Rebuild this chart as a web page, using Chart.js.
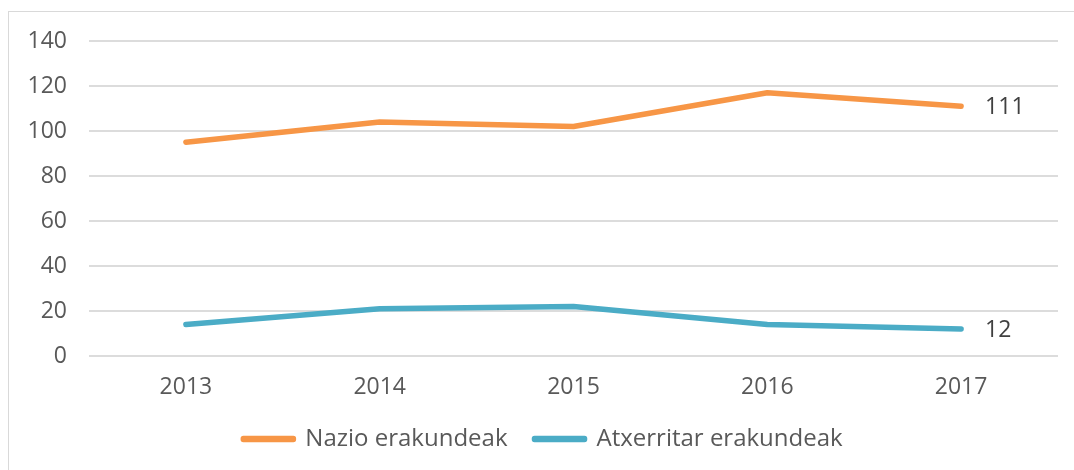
<!DOCTYPE html>
<html>
<head>
<meta charset="utf-8">
<script src="https://cdn.jsdelivr.net/npm/chart.js@4/dist/chart.umd.min.js"></script>
<style>
  html,body{margin:0;padding:0;background:#fff;}
  #wrap{position:relative;width:1074px;height:470px;overflow:hidden;}
  #frame{position:absolute;left:8px;top:11px;width:1200px;height:600px;border:1.5px solid #d9d9d9;box-sizing:border-box;}
  #c{position:absolute;left:0;top:0;}
</style>
</head>
<body>
<div id="wrap">
  <div id="frame"></div>
  <canvas id="c" width="1074" height="470"></canvas>
</div>
<script>
const years=['2013','2014','2015','2016','2017'];
const nazio=[95,104,102,117,111];
const atzerritar=[14,21,22,14,12];
const seriesNames=['Nazio erakundeak','Atxerritar erakundeak'];
const seriesColors=['#F79646','#4BACC6'];

const FONT='"Open Sans", sans-serif';

// etiqueta del último valor de cada serie
const lastLabel={
  id:'lastLabel',
  afterDatasetsDraw(chart){
    const ctx=chart.ctx;
    ctx.save();
    ctx.font='23px '+FONT;
    ctx.fillStyle='#404040';
    ctx.textAlign='left';
    ctx.textBaseline='middle';
    chart.data.datasets.forEach((ds,i)=>{
      const meta=chart.getDatasetMeta(i);
      const n=ds.data.length-1;
      const pt=meta.data[n];
      if(pt)ctx.fillText(String(ds.data[n]),pt.x+24,pt.y+1);
    });
    ctx.restore();
  }
};

const mkDs=(label,data,color)=>({
  label,data,borderColor:color,backgroundColor:color,
  borderWidth:5.5,pointRadius:0,tension:0,fill:false,
  borderCapStyle:'round',borderJoinStyle:'round'
});

new Chart(document.getElementById('c').getContext('2d'),{
  type:'line',
  data:{labels:years,datasets:[
    mkDs(seriesNames[0],nazio,seriesColors[0]),
    mkDs(seriesNames[1],atzerritar,seriesColors[1])
  ]},
  options:{
    responsive:false,animation:false,
    layout:{padding:{left:28,right:16,top:41,bottom:9}},
    plugins:{
      legend:{position:'bottom',
        labels:{font:{family:FONT,size:24},color:'#595959',boxWidth:50,boxHeight:1,padding:27}},
      tooltip:{enabled:false}
    },
    scales:{
      x:{offset:true,
        grid:{display:false,drawTicks:false},
        border:{display:false},
        ticks:{font:{family:FONT,size:23},color:'#595959',padding:18},
        afterFit(s){s.height=44;}},
      y:{min:0,max:140,
        grid:{color:'#dcdcdc',lineWidth:2,drawTicks:false},
        border:{display:false},
        ticks:{stepSize:20,font:{family:FONT,size:23},color:'#595959',padding:22},
        afterFit(s){s.width=61;}}
    }
  },
  plugins:[lastLabel]
});
</script>
</body>
</html>
